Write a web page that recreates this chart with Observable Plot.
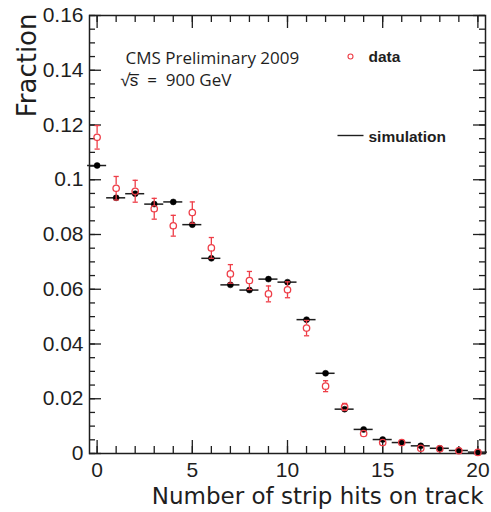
<!DOCTYPE html>
<html><head><meta charset="utf-8">
<script src="https://cdn.jsdelivr.net/npm/d3@7"></script>
<script src="https://cdn.jsdelivr.net/npm/@observablehq/plot@0.6"></script>
<style>body{margin:0;background:#fff}</style>
</head><body><div id="chart"></div>
<script>
// ---- data ----
const hits = [0,1,2,3,4,5,6,7,8,9,10,11,12,13,14,15,16,17,18,19,20];
const dataFraction = [0.1155,0.0969,0.0958,0.0894,0.0832,0.0880,0.0751,0.0656,0.0632,0.0583,0.0598,0.0458,0.0246,0.0170,0.0073,0.0040,0.0040,0.0019,0.0017,0.0010,0.0004];
const dataError    = [0.0043,0.0043,0.0040,0.0038,0.0038,0.0039,0.0038,0.0034,0.0033,0.0029,0.0029,0.0028,0.0020,0.0013,0.0008,0.0006,0.0005,0.0004,0.0003,0.0003,0.0002];
const simFraction  = [0.1052,0.0934,0.0949,0.0911,0.0919,0.0836,0.0713,0.0616,0.0597,0.0637,0.0626,0.0489,0.0293,0.0162,0.0088,0.0051,0.0040,0.0028,0.0019,0.0011,0.0005];
const binHalfWidth = 0.5;
const xTickLabels = [0,5,10,15,20];
const xMinorTicks = [0,1,2,3,4,5,6,7,8,9,10,11,12,13,14,15,16,17,18,19,20];
const yTickLabels = [0,0.02,0.04,0.06,0.08,0.1,0.12,0.14,0.16];
const yMinorTicks = d3.range(0, 0.1601, 0.005);
const xDomain = [-0.4, 20.4];
const yDomain = [0, 0.16];
const titleLines = ["CMS Preliminary 2009", "\u221As\u0305  =  900 GeV"];
const legendLabels = ["data", "simulation"];
const xLabel = "Number of strip hits on track";
const yLabel = "Fraction";

// ---- layout / style ----
const width = 491, height = 512;
const mL = 89, mR = 6, mT = 15, mB = 59;
const W = width - mL - mR, H = height - mT - mB;
const red = "#ee3e48";
const ink = "#1e1e1e";

const rows = hits.map((h, i) => ({h, d: dataFraction[i], e: dataError[i], s: simFraction[i]}));
const errRows = rows.filter(r => r.e > 0.0012);

const capSym = {draw(ctx, size) { const r = Math.sqrt(size / Math.PI); ctx.moveTo(-r, 0); ctx.lineTo(r, 0); }};

const circR = 3.2;

const chart = Plot.plot({
  width, height,
  marginLeft: mL, marginRight: mR, marginTop: mT, marginBottom: mB,
  style: {fontFamily: "'Liberation Sans', Arial, sans-serif", fontSize: "21px", color: ink, background: "#fff"},
  x: {domain: xDomain, ticks: xTickLabels, tickSize: 0, tickPadding: 9, label: null},
  y: {domain: yDomain, ticks: yTickLabels, tickSize: 0, tickPadding: 6, label: null, tickFormat: d => String(+d.toFixed(2))},
  marks: [
    // inward ticks (ROOT style)
    Plot.tickY(yMinorTicks, {y: d => d, insetRight: W - 6, stroke: ink, strokeWidth: 1.3}),
    Plot.tickY(yTickLabels, {y: d => d, insetRight: W - 12, stroke: ink, strokeWidth: 1.3}),
    Plot.tickY(yMinorTicks, {y: d => d, insetLeft: W - 6, stroke: ink, strokeWidth: 1.3}),
    Plot.tickY(yTickLabels, {y: d => d, insetLeft: W - 12, stroke: ink, strokeWidth: 1.3}),
    Plot.tickX(xMinorTicks, {x: d => d, insetTop: H - 7, stroke: ink, strokeWidth: 1.3}),
    Plot.tickX(xTickLabels, {x: d => d, insetTop: H - 13, stroke: ink, strokeWidth: 1.3}),
    Plot.tickX(xMinorTicks, {x: d => d, insetBottom: H - 7, stroke: ink, strokeWidth: 1.3}),
    Plot.tickX(xTickLabels, {x: d => d, insetBottom: H - 13, stroke: ink, strokeWidth: 1.3}),
    Plot.frame({stroke: ink, strokeWidth: 1.5}),
    // simulation
    Plot.ruleY(rows, {y: "s", x1: r => r.h - binHalfWidth, x2: r => r.h + binHalfWidth, stroke: ink, strokeWidth: 1.5}),
    Plot.dot(rows, {x: "h", y: "s", r: 3, fill: "#000", stroke: "#000", strokeWidth: 0.5}),
    // data
    Plot.ruleX(errRows, {x: "h", y1: r => r.d + r.e, y2: "d", insetBottom: circR, stroke: red, strokeWidth: 1.3}),
    Plot.ruleX(errRows, {x: "h", y1: "d", y2: r => r.d - r.e, insetTop: circR, stroke: red, strokeWidth: 1.3}),
    Plot.dot(errRows, {x: "h", y: r => r.d + r.e, symbol: capSym, r: 2.6, stroke: red, strokeWidth: 1.3}),
    Plot.dot(errRows, {x: "h", y: r => r.d - r.e, symbol: capSym, r: 2.6, stroke: red, strokeWidth: 1.3}),
    Plot.dot(rows, {x: "h", y: "d", r: circR, fill: "none", stroke: red, strokeWidth: 1.3}),
    // header text
    Plot.text([titleLines[0]], {text: d => d, frameAnchor: "top-left", textAnchor: "start", lineAnchor: "bottom", dx: 36, dy: 48, fontFamily: "'Open Sans', sans-serif", fontSize: 17, fill: ink}),
    Plot.text([titleLines[1]], {text: d => d, frameAnchor: "top-left", textAnchor: "start", lineAnchor: "bottom", dx: 31, dy: 70, fontFamily: "'Open Sans', sans-serif", fontSize: 17, fill: ink}),
    // legend
    Plot.dot([0], {frameAnchor: "top-left", dx: 261, dy: 41, r: 2.5, fill: "none", stroke: red, strokeWidth: 1.1}),
    Plot.text([legendLabels[0]], {text: d => d, frameAnchor: "top-left", textAnchor: "start", lineAnchor: "bottom", dx: 279, dy: 46, fontWeight: "bold", fontSize: 15.5, fill: ink}),
    Plot.dot([0], {frameAnchor: "top-left", dx: 261, dy: 120, symbol: capSym, r: 13, stroke: ink, strokeWidth: 1.4}),
    Plot.text([legendLabels[1]], {text: d => d, frameAnchor: "top-left", textAnchor: "start", lineAnchor: "bottom", dx: 279, dy: 126.5, fontWeight: "bold", fontSize: 15.5, fill: ink}),
    // axis titles
    Plot.text([yLabel], {text: d => d, frameAnchor: "top-left", rotate: -90, textAnchor: "end", lineAnchor: "bottom", dx: -54, dy: -2, fontFamily: "'DejaVu Sans', sans-serif", fontSize: 26, fill: ink}),
    Plot.text([xLabel], {text: d => d, frameAnchor: "bottom-right", textAnchor: "end", lineAnchor: "bottom", dx: -2, dy: 50, fontFamily: "'DejaVu Sans', sans-serif", fontSize: 23, fill: ink})
  ]
});
document.getElementById("chart").appendChild(chart);
</script>
</body></html>
